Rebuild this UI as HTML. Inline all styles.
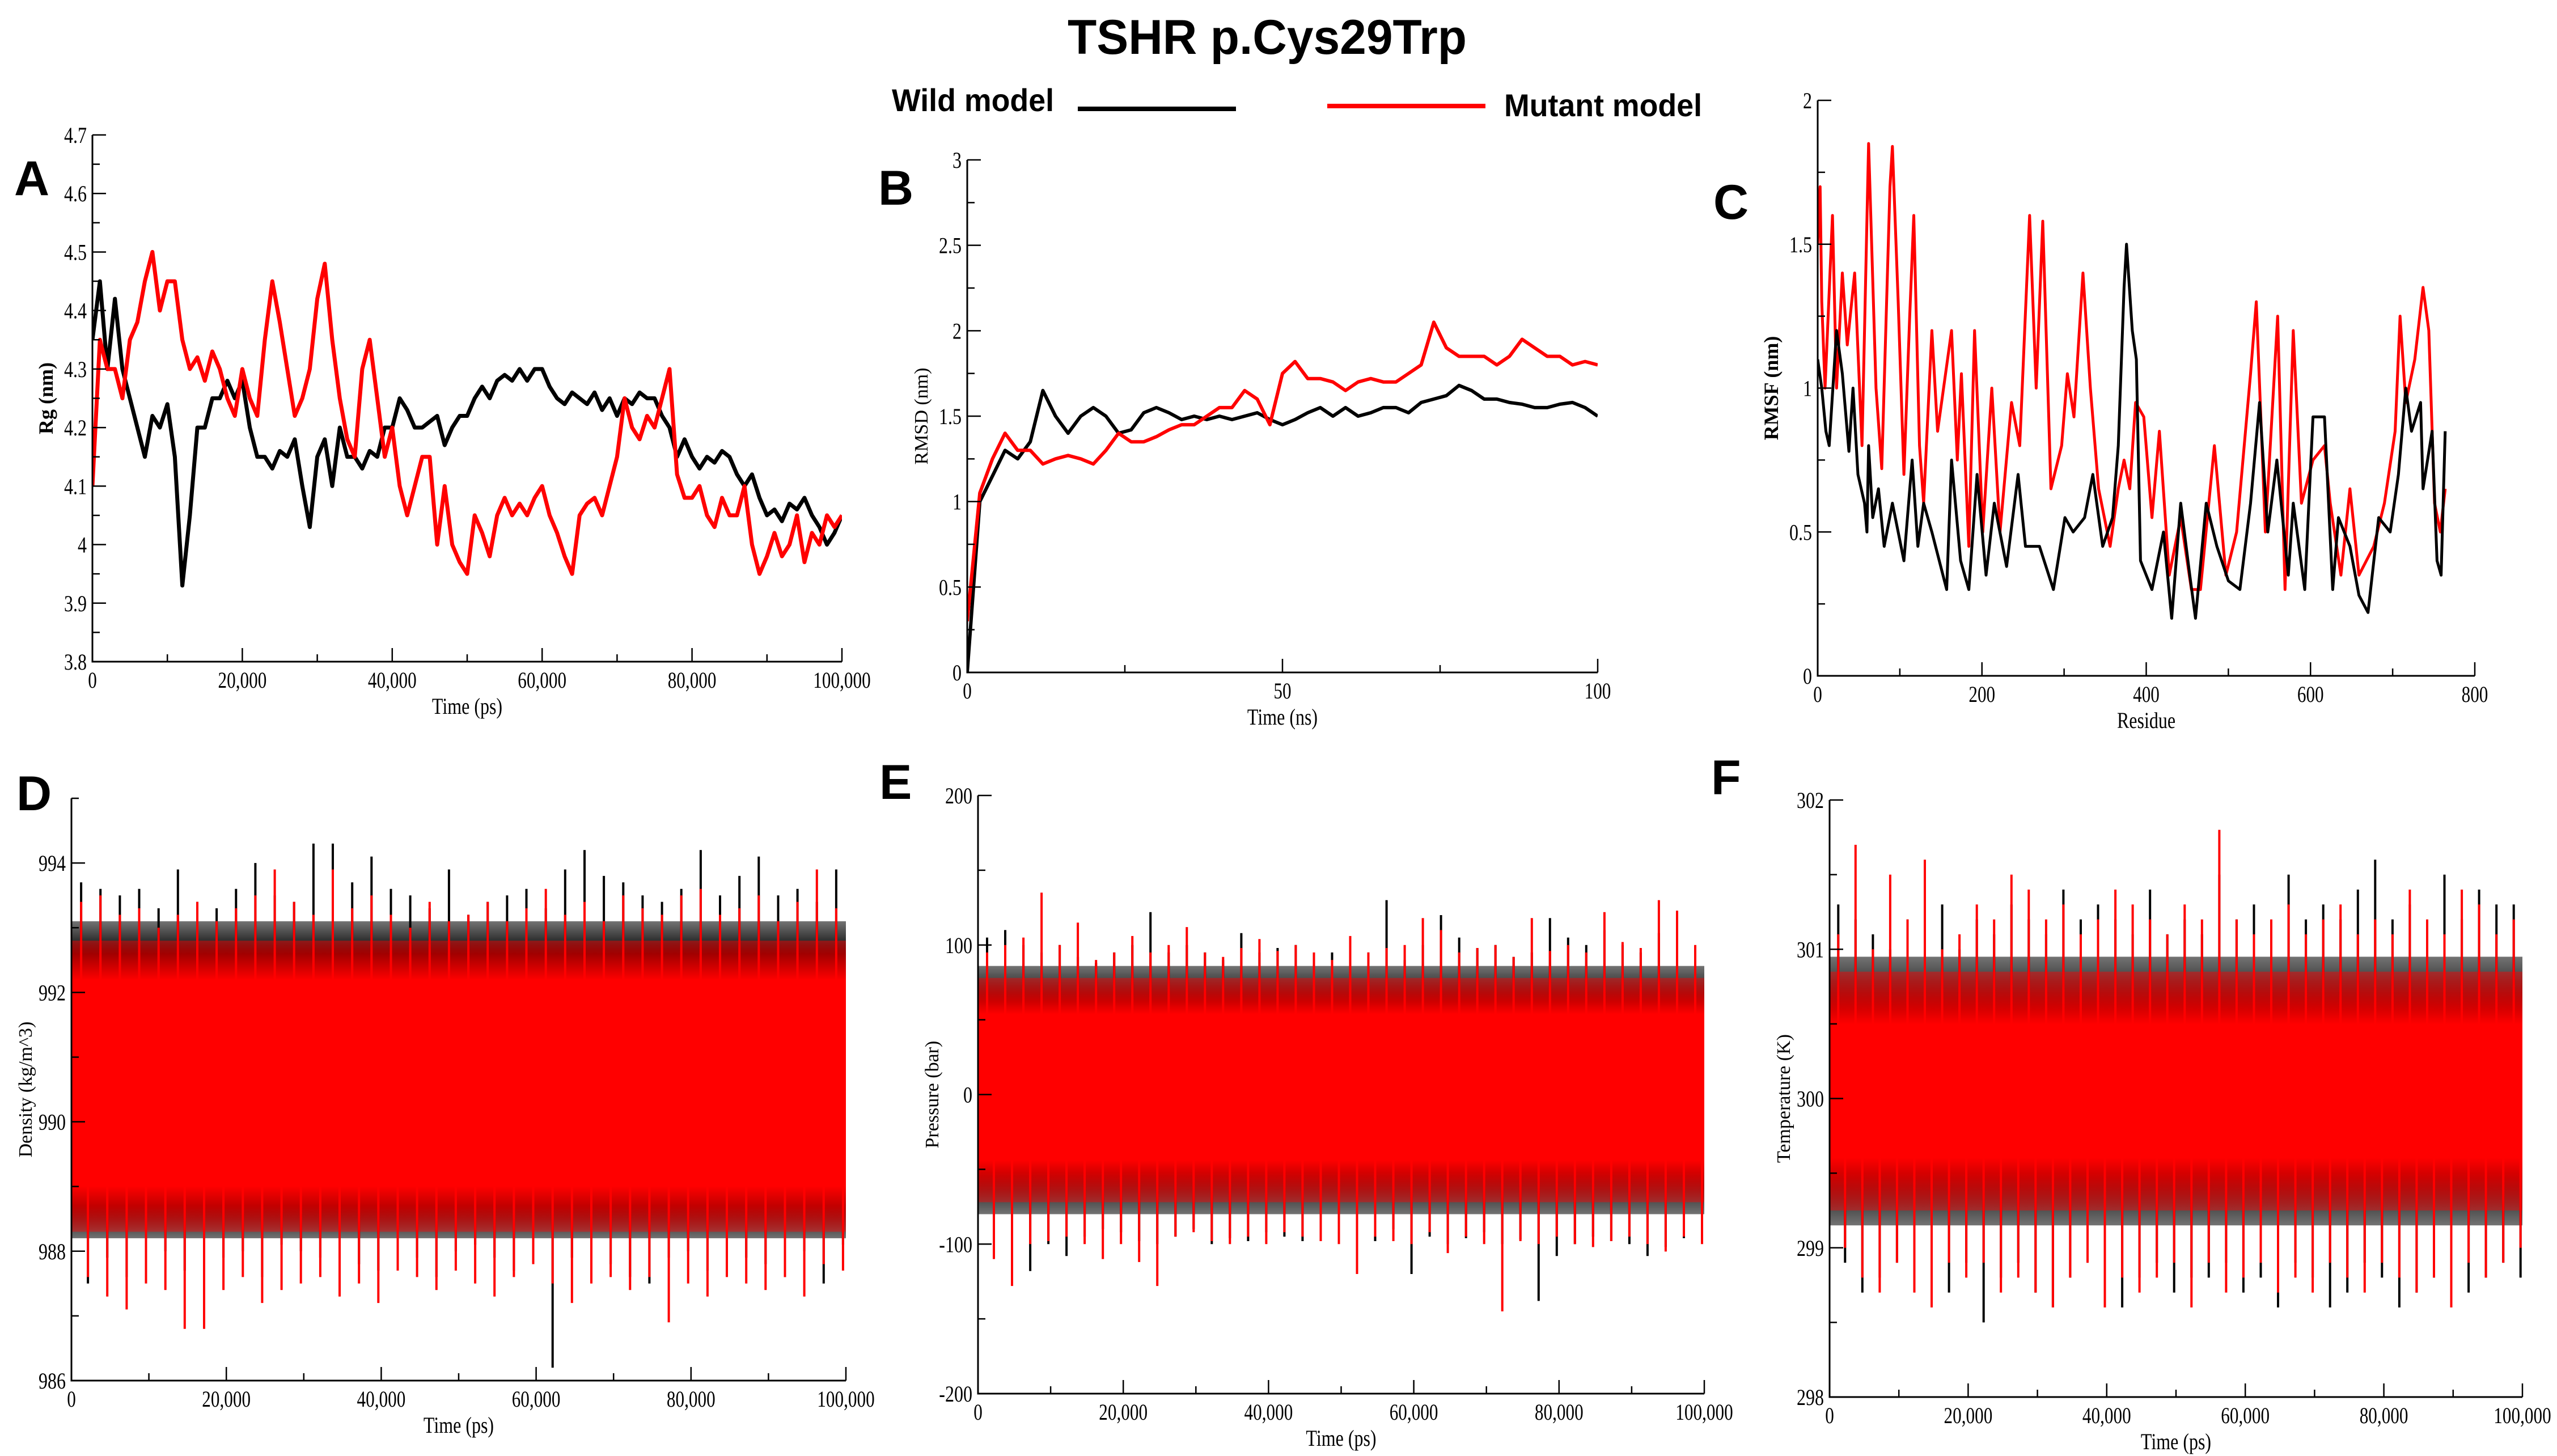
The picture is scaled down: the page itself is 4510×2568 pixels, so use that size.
<!DOCTYPE html>
<html><head><meta charset="utf-8"><style>
html,body{margin:0;padding:0;background:#fff;}
svg{display:block;}
</style></head><body>
<svg id="fig" xmlns="http://www.w3.org/2000/svg" width="4510" height="2568" viewBox="0 0 4510 2568">
<defs id="defs">
<linearGradient id="fadeUpK" x1="0" y1="1" x2="0" y2="0"><stop offset="0" stop-color="#000" stop-opacity="1"/><stop offset="1" stop-color="#000" stop-opacity="0.55"/></linearGradient>
<linearGradient id="fadeDnK" x1="0" y1="0" x2="0" y2="1"><stop offset="0" stop-color="#000" stop-opacity="1"/><stop offset="1" stop-color="#000" stop-opacity="0.55"/></linearGradient>
<linearGradient id="fadeUpR" x1="0" y1="1" x2="0" y2="0"><stop offset="0" stop-color="#f00" stop-opacity="1"/><stop offset="1" stop-color="#f00" stop-opacity="0.45"/></linearGradient>
<linearGradient id="fadeDnR" x1="0" y1="0" x2="0" y2="1"><stop offset="0" stop-color="#f00" stop-opacity="1"/><stop offset="1" stop-color="#f00" stop-opacity="0.45"/></linearGradient>
</defs>
<rect width="4510" height="2568" fill="#fff"/>
<text x="2235" y="95" text-anchor="middle" font-family="Liberation Sans, sans-serif" font-weight="bold" font-size="86" textLength="704" lengthAdjust="spacingAndGlyphs">TSHR p.Cys29Trp</text>
<g>
<text x="1573" y="196" font-family="Liberation Sans, sans-serif" font-weight="bold" font-size="56" textLength="286" lengthAdjust="spacingAndGlyphs">Wild model</text>
<line x1="1901" y1="192" x2="2180" y2="192" stroke="#000" stroke-width="8"/>
<line x1="2341" y1="187" x2="2620" y2="187" stroke="#f00" stroke-width="8"/>
<text x="2653" y="205" font-family="Liberation Sans, sans-serif" font-weight="bold" font-size="56" textLength="349" lengthAdjust="spacingAndGlyphs">Mutant model</text>
</g>
<g id="plots"></g>
</svg>
<script>
// ---------- Panel A: Rg ----------
const rgTime = [0,1000,2000,3000,4000,5000,6000,7000,8000,9000,10000,11000,12000,13000,14000,15000,16000,17000,18000,19000,20000,21000,22000,23000,24000,25000,26000,27000,28000,29000,30000,31000,32000,33000,34000,35000,36000,37000,38000,39000,40000,41000,42000,43000,44000,45000,46000,47000,48000,49000,50000,51000,52000,53000,54000,55000,56000,57000,58000,59000,60000,61000,62000,63000,64000,65000,66000,67000,68000,69000,70000,71000,72000,73000,74000,75000,76000,77000,78000,79000,80000,81000,82000,83000,84000,85000,86000,87000,88000,89000,90000,91000,92000,93000,94000,95000,96000,97000,98000,99000,100000];
const rgWild = [4.35,4.45,4.3,4.42,4.3,4.25,4.2,4.15,4.22,4.2,4.24,4.15,3.93,4.05,4.2,4.2,4.25,4.25,4.28,4.25,4.28,4.2,4.15,4.15,4.13,4.16,4.15,4.18,4.1,4.03,4.15,4.18,4.1,4.2,4.15,4.15,4.13,4.16,4.15,4.2,4.2,4.25,4.23,4.2,4.2,4.21,4.22,4.17,4.2,4.22,4.22,4.25,4.27,4.25,4.28,4.29,4.28,4.3,4.28,4.3,4.3,4.27,4.25,4.24,4.26,4.25,4.24,4.26,4.23,4.25,4.22,4.25,4.24,4.26,4.25,4.25,4.22,4.2,4.15,4.18,4.15,4.13,4.15,4.14,4.16,4.15,4.12,4.1,4.12,4.08,4.05,4.06,4.04,4.07,4.06,4.08,4.05,4.03,4.0,4.02,4.05];
const rgMutant = [4.1,4.35,4.3,4.3,4.25,4.35,4.38,4.45,4.5,4.4,4.45,4.45,4.35,4.3,4.32,4.28,4.33,4.3,4.25,4.22,4.3,4.25,4.22,4.35,4.45,4.38,4.3,4.22,4.25,4.3,4.42,4.48,4.35,4.25,4.18,4.15,4.3,4.35,4.25,4.15,4.2,4.1,4.05,4.1,4.15,4.15,4.0,4.1,4.0,3.97,3.95,4.05,4.02,3.98,4.05,4.08,4.05,4.07,4.05,4.08,4.1,4.05,4.02,3.98,3.95,4.05,4.07,4.08,4.05,4.1,4.15,4.25,4.2,4.18,4.22,4.2,4.25,4.3,4.12,4.08,4.08,4.1,4.05,4.03,4.08,4.05,4.05,4.1,4.0,3.95,3.98,4.02,3.98,4.0,4.05,3.97,4.02,4.0,4.05,4.03,4.05];
// ---------- Panel B: RMSD ----------
const rmsdTime = [0,2,4,6,8,10,12,14,16,18,20,22,24,26,28,30,32,34,36,38,40,42,44,46,48,50,52,54,56,58,60,62,64,66,68,70,72,74,76,78,80,82,84,86,88,90,92,94,96,98,100];
const rmsdWild = [0,1.0,1.15,1.3,1.25,1.35,1.65,1.5,1.4,1.5,1.55,1.5,1.4,1.42,1.52,1.55,1.52,1.48,1.5,1.48,1.5,1.48,1.5,1.52,1.48,1.45,1.48,1.52,1.55,1.5,1.55,1.5,1.52,1.55,1.55,1.52,1.58,1.6,1.62,1.68,1.65,1.6,1.6,1.58,1.57,1.55,1.55,1.57,1.58,1.55,1.5];
const rmsdMutant = [0.3,1.05,1.25,1.4,1.3,1.3,1.22,1.25,1.27,1.25,1.22,1.3,1.4,1.35,1.35,1.38,1.42,1.45,1.45,1.5,1.55,1.55,1.65,1.6,1.45,1.75,1.82,1.72,1.72,1.7,1.65,1.7,1.72,1.7,1.7,1.75,1.8,2.05,1.9,1.85,1.85,1.85,1.8,1.85,1.95,1.9,1.85,1.85,1.8,1.82,1.8];
// ---------- Panel C: RMSF ----------
const rmsfResWild = [0,5,10,14,23,30,33,38,43,49,57,60,62,67,74,81,91,105,115,122,129,139,157,163,174,184,194,205,215,230,244,253,270,287,301,311,325,335,347,359,366,373,376,383,388,393,407,421,431,442,453,460,473,486,500,514,527,538,548,559,573,579,593,603,617,627,634,648,659,670,683,697,707,716,723,734,737,748,754,759,764];
const rmsfWild = [1.1,1.0,0.85,0.8,1.2,1.05,0.95,0.78,1.0,0.7,0.6,0.5,0.8,0.55,0.65,0.45,0.6,0.4,0.75,0.45,0.6,0.5,0.3,0.75,0.4,0.3,0.7,0.35,0.6,0.38,0.7,0.45,0.45,0.3,0.55,0.5,0.55,0.7,0.45,0.55,0.8,1.35,1.5,1.2,1.1,0.4,0.3,0.5,0.2,0.6,0.35,0.2,0.6,0.45,0.33,0.3,0.6,0.95,0.5,0.75,0.35,0.6,0.3,0.9,0.9,0.3,0.55,0.45,0.28,0.22,0.55,0.5,0.7,1.0,0.85,0.95,0.65,0.85,0.4,0.35,0.85];
const rmsfResMutant = [0,3,5,9,18,23,30,36,45,54,62,71,78,88,91,98,105,112,117,124,129,139,146,163,170,175,184,191,201,212,222,236,246,258,266,274,284,297,304,312,323,332,342,356,366,373,380,387,397,407,416,428,442,455,466,483,497,510,527,534,545,560,569,579,589,603,617,624,637,648,659,677,690,703,709,716,727,737,744,751,758,764];
const rmsfMutant = [1.5,1.7,1.3,1.0,1.6,1.0,1.4,1.15,1.4,0.8,1.85,1.0,0.72,1.7,1.84,1.3,0.7,1.25,1.6,0.8,0.6,1.2,0.85,1.2,0.75,1.05,0.45,1.2,0.5,1.0,0.5,0.95,0.8,1.6,1.0,1.58,0.65,0.8,1.05,0.9,1.4,1.0,0.65,0.45,0.65,0.75,0.65,0.95,0.9,0.55,0.85,0.35,0.55,0.3,0.3,0.8,0.35,0.5,1.05,1.3,0.5,1.25,0.3,1.2,0.6,0.75,0.8,0.6,0.35,0.65,0.35,0.45,0.6,0.85,1.25,0.95,1.1,1.35,1.2,0.6,0.5,0.65];
// ---------- Panel D: Density (40 bins over 0-100000 ps) ----------
const densWildHi = [993.7,993.6,993.5,993.6,993.3,993.9,993.4,993.3,993.6,994.0,993.5,993.4,994.3,994.3,993.7,994.1,993.6,993.5,993.3,993.9,993.2,993.4,993.5,993.6,993.3,993.9,994.2,993.8,993.7,993.5,993.4,993.6,994.2,993.5,993.8,994.1,993.5,993.6,993.4,993.9];
const densWildLo = [987.5,987.9,987.6,987.8,988.0,987.7,988.2,987.9,988.0,987.6,988.1,988.0,987.9,988.1,987.8,987.7,988.0,987.9,987.6,988.0,988.1,987.9,987.7,988.0,986.2,987.9,988.0,987.8,987.6,987.5,987.9,988.0,987.7,988.1,987.9,987.8,987.6,988.0,987.5,988.1];
const densMutHi = [993.4,993.5,993.2,993.3,993.0,993.2,993.4,993.1,993.3,993.5,993.9,993.4,993.2,993.9,993.3,993.5,993.2,993.0,993.4,993.1,993.2,993.4,993.1,993.3,993.6,993.2,993.4,993.1,993.5,993.3,993.2,993.5,993.6,993.2,993.3,993.5,993.1,993.4,993.9,993.3];
const densMutLo = [987.6,987.3,987.1,987.5,987.4,986.8,986.8,987.4,987.6,987.2,987.4,987.5,987.6,987.3,987.5,987.2,987.7,987.6,987.4,987.7,987.5,987.3,987.6,987.8,987.5,987.2,987.5,987.6,987.4,987.6,986.9,987.5,987.3,987.6,987.5,987.4,987.6,987.3,987.8,987.7];
const densWildBand = [988.7, 992.6]; const densWildFringe = [988.2, 993.1];
const densMutBand = [989.0, 992.2];  const densMutFringe = [988.3, 992.8];
// ---------- Panel E: Pressure ----------
const presWildHi = [105,110,100,95,100,92,88,95,100,122,95,100,95,90,108,95,98,100,90,95,88,95,130,90,100,120,105,98,100,92,95,118,105,100,110,100,95,108,100,95];
const presWildLo = [-95,-98,-118,-100,-108,-95,-90,-92,-98,-100,-95,-90,-100,-96,-98,-92,-95,-98,-90,-95,-100,-98,-90,-120,-95,-100,-96,-92,-100,-97,-138,-108,-100,-95,-98,-100,-108,-102,-96,-95];
const presMutHi = [95,100,105,135,100,115,90,95,106,95,100,112,95,92,98,104,96,100,95,90,106,95,98,100,118,110,95,98,100,92,118,96,100,95,122,102,98,130,123,100];
const presMutLo = [-110,-128,-100,-98,-95,-100,-110,-100,-112,-128,-95,-92,-98,-100,-95,-100,-92,-95,-98,-100,-120,-95,-98,-100,-92,-106,-95,-100,-145,-98,-100,-95,-100,-102,-98,-95,-100,-105,-95,-100];
const presWildBand = [-52, 62]; const presWildFringe = [-80, 86];
const presMutBand = [-44, 54];  const presMutFringe = [-72, 78];
// ---------- Panel F: Temperature ----------
const tempWildHi = [301.3,301.2,301.1,301.0,301.2,301.1,301.3,301.0,301.2,301.1,301.3,301.2,301.1,301.4,301.2,301.3,301.2,301.1,301.4,301.1,301.2,301.1,301.5,301.2,301.3,301.1,301.5,301.2,301.3,301.2,301.4,301.6,301.2,301.3,301.1,301.5,301.2,301.4,301.3,301.3];
const tempWildLo = [298.9,298.7,298.8,298.9,298.8,298.9,298.7,298.9,298.5,298.8,298.9,298.7,298.6,298.8,298.9,298.7,298.6,298.8,298.9,298.7,298.8,298.8,298.9,298.7,298.8,298.6,298.9,298.8,298.6,298.7,298.9,298.8,298.6,298.7,298.8,298.6,298.7,298.8,298.9,298.8];
const tempMutHi = [301.1,301.7,301.0,301.5,301.2,301.6,301.0,301.1,301.3,301.2,301.5,301.4,301.2,301.3,301.1,301.2,301.4,301.3,301.2,301.1,301.3,301.2,301.8,301.2,301.1,301.2,301.3,301.1,301.2,301.3,301.1,301.2,301.1,301.4,301.2,301.1,301.4,301.3,301.1,301.2];
const tempMutLo = [299.0,298.8,298.7,298.9,298.7,298.6,298.9,298.8,298.9,298.7,298.8,298.7,298.6,298.8,298.9,298.6,298.8,298.7,298.8,298.9,298.6,298.9,298.7,298.8,298.9,298.7,298.8,298.7,298.9,298.8,298.7,298.9,298.8,298.7,298.8,298.6,298.9,298.8,298.9,299.0];
const tempWildBand = [299.5, 300.6]; const tempWildFringe = [299.15, 300.95];
const tempMutBand = [299.6, 300.5];  const tempMutFringe = [299.25, 300.85];

const NS = 'http://www.w3.org/2000/svg';
const root = document.getElementById('plots');
function mk(tag, attrs, parent){ const e=document.createElementNS(NS,tag); for(const k in attrs) e.setAttribute(k,attrs[k]); (parent||root).appendChild(e); return e; }
function fmt(v, comma, dec){ let s = dec!=null ? (+v.toFixed(dec)).toString() : v.toString(); if(comma && Math.abs(v)>=1000) s = v.toLocaleString('en-US'); return s; }
function condense(t, f){ const w=t.getComputedTextLength(); if(w>0){ t.setAttribute('textLength', (w*f).toFixed(1)); t.setAttribute('lengthAdjust','spacingAndGlyphs'); } }

function panel(cfg){
  const g = mk('g',{});
  
  
  const sx = v => cfg.x0 + (v-cfg.xmin)/(cfg.xmax-cfg.xmin)*(cfg.x1-cfg.x0);
  const sy = v => cfg.y1 - (v-cfg.ymin)/(cfg.ymax-cfg.ymin)*(cfg.y1-cfg.y0);
  const clip = 'clip-'+cfg.name;
  const cp = mk('clipPath',{id:clip}, g); mk('rect',{x:cfg.x0,y:cfg.y0-200,width:cfg.x1-cfg.x0,height:cfg.y1-cfg.y0+200},cp);
  const data = mk('g',{'clip-path':'url(#'+clip+')'}, g);
  
  
  cfg.draw(data, sx, sy);
  const ax = mk('path',{d:`M${cfg.x0},${cfg.y0} V${cfg.y1} H${cfg.x1}`, fill:'none', stroke:'#000', 'stroke-width':3}, g);
  
  
  const tk = [];
  for(let v=cfg.xmin; v<=cfg.xmax+1e-9; v+=cfg.xminor){ const major = Math.abs(((v-cfg.xmin)/cfg.xmajor)-Math.round((v-cfg.xmin)/cfg.xmajor))<1e-6; const X=sx(v); tk.push(`M${X},${cfg.y1} v${major?-24:-13}`);
    if(major){ const t=mk('text',{x:X,y:cfg.y1+46,'text-anchor':'middle','font-family':'Liberation Serif, serif','font-size':40},g); t.textContent=fmt(Math.round(v),true);
      
       condense(t,0.78);} }
  for(let v=cfg.ymin; v<=cfg.ymax+1e-9; v+=cfg.yminor){ const major = Math.abs(((v-cfg.ymin)/cfg.ymajor)-Math.round((v-cfg.ymin)/cfg.ymajor))<1e-6 && v<=cfg.ylabmax+1e-9; const Y=sy(v); tk.push(`M${cfg.x0},${Y} h${major?24:13}`);
    if(major){ const t=mk('text',{x:cfg.x0-10,y:Y+14,'text-anchor':'end','font-family':'Liberation Serif, serif','font-size':40},g); t.textContent=fmt(v,false,cfg.ydec);
      
       condense(t,0.8);} }
  const tp = mk('path',{d:tk.join(' '),stroke:'#000','stroke-width':2.5,fill:'none'},g);
  
  
  const xt = mk('text',{x:(cfg.x0+cfg.x1)/2,y:cfg.y1+92,'text-anchor':'middle','font-family':'Liberation Serif, serif','font-size':40},g); xt.textContent=cfg.xlabel;
  
   condense(xt,0.8);
  const cy=(cfg.y0+cfg.y1)/2, cx=cfg.x0-70;
  const yt = mk('text',{x:cx,y:cy,'text-anchor':'middle','font-family':'Liberation Serif, serif','font-size':cfg.ybold?36:34,'font-weight':cfg.ybold?'bold':'normal',transform:`rotate(-90 ${cx} ${cy})`},g); yt.textContent=cfg.ylabel;
  
  
  const L = mk('text',{x:cfg.lx,y:cfg.ly,'font-family':'Liberation Sans, sans-serif','font-weight':'bold','font-size':86},g); L.textContent=cfg.letter;
  
  
}
function line(parent, xs, ys, sx, sy, color, w, name){
  const p = mk('polyline',{points: xs.map((x,i)=>sx(x).toFixed(1)+','+sy(ys[i]).toFixed(1)).join(' '), fill:'none', stroke:color, 'stroke-width':w, 'stroke-linejoin':'round'}, parent);
  
  
}
function noisy(parent, hi, lo, band, fringe, sx, sy, color, key, name, xmax){
  const g = mk('g',{}, parent);
  
  
  const X0=sx(0), X1=sx(xmax);
  mk('rect',{x:X0,y:sy(fringe[1]),width:X1-X0,height:sy(band[1])-sy(fringe[1])+1,fill:'url(#fadeUp'+key+')'},g);
  mk('rect',{x:X0,y:sy(band[0])-1,width:X1-X0,height:sy(fringe[0])-sy(band[0])+1,fill:'url(#fadeDn'+key+')'},g);
  mk('rect',{x:X0,y:sy(band[1]),width:X1-X0,height:sy(band[0])-sy(band[1]),fill:color},g);
  const n=hi.length; const d=[];
  for(let i=0;i<n;i++){ const X=sx((i+0.5)*xmax/n); d.push(`M${X.toFixed(1)},${sy(band[1]).toFixed(1)} V${sy(hi[i]).toFixed(1)}`); d.push(`M${(X+12).toFixed(1)},${sy(band[0]).toFixed(1)} V${sy(lo[i]).toFixed(1)}`); }
  mk('path',{d:d.join(' '),stroke:color,'stroke-width':4,fill:'none'},g);
}

panel({name:'panel-a-rg', letter:'A', lx:25, ly:344, x0:163,x1:1485,y0:238,y1:1167, xmin:0,xmax:100000,xmajor:20000,xminor:10000, ymin:3.8,ymax:4.7,ymajor:0.1,yminor:0.05,ylabmax:4.7,ydec:1, xlabel:'Time (ps)', ylabel:'Rg (nm)', ybold:true,
  draw:(g,sx,sy)=>{ line(g,rgTime,rgWild,sx,sy,'#000',7,'rg-wild-line'); line(g,rgTime,rgMutant,sx,sy,'#f00',7,'rg-mutant-line'); }});
panel({name:'panel-b-rmsd', letter:'B', lx:1549, ly:361, x0:1706,x1:2818,y0:282,y1:1186, xmin:0,xmax:100,xmajor:50,xminor:25, ymin:0,ymax:3,ymajor:0.5,yminor:0.25,ylabmax:3,ydec:1, xlabel:'Time (ns)', ylabel:'RMSD (nm)',
  draw:(g,sx,sy)=>{ line(g,rmsdTime,rmsdWild,sx,sy,'#000',6,'rmsd-wild-line'); line(g,rmsdTime,rmsdMutant,sx,sy,'#f00',6,'rmsd-mutant-line'); }});
panel({name:'panel-c-rmsf', letter:'C', lx:3022, ly:386, x0:3206,x1:4365,y0:177,y1:1192, xmin:0,xmax:800,xmajor:200,xminor:100, ymin:0,ymax:2,ymajor:0.5,yminor:0.25,ylabmax:2,ydec:1, xlabel:'Residue', ylabel:'RMSF (nm)', ybold:true,
  draw:(g,sx,sy)=>{ line(g,rmsfResMutant,rmsfMutant,sx,sy,'#f00',5,'rmsf-mutant-line'); line(g,rmsfResWild,rmsfWild,sx,sy,'#000',5,'rmsf-wild-line'); }});
panel({name:'panel-d-density', letter:'D', lx:29, ly:1429, x0:126,x1:1492,y0:1408,y1:2435, xmin:0,xmax:100000,xmajor:20000,xminor:10000, ymin:986,ymax:995,ymajor:2,yminor:1,ylabmax:994,ydec:0, xlabel:'Time (ps)', ylabel:'Density (kg/m^3)',
  draw:(g,sx,sy)=>{ noisy(g,densWildHi,densWildLo,densWildBand,densWildFringe,sx,sy,'#000','K','density-wild-series',100000); noisy(g,densMutHi,densMutLo,densMutBand,densMutFringe,sx,sy,'#f00','R','density-mutant-series',100000); }});
panel({name:'panel-e-pressure', letter:'E', lx:1551, ly:1409, x0:1725,x1:3006,y0:1403,y1:2458, xmin:0,xmax:100000,xmajor:20000,xminor:10000, ymin:-200,ymax:200,ymajor:100,yminor:50,ylabmax:200,ydec:0, xlabel:'Time (ps)', ylabel:'Pressure (bar)',
  draw:(g,sx,sy)=>{ noisy(g,presWildHi,presWildLo,presWildBand,presWildFringe,sx,sy,'#000','K','pressure-wild-series',100000); noisy(g,presMutHi,presMutLo,presMutBand,presMutFringe,sx,sy,'#f00','R','pressure-mutant-series',100000); }});
panel({name:'panel-f-temperature', letter:'F', lx:3018, ly:1401, x0:3227,x1:4449,y0:1411,y1:2464, xmin:0,xmax:100000,xmajor:20000,xminor:10000, ymin:298,ymax:302,ymajor:1,yminor:0.5,ylabmax:302,ydec:0, xlabel:'Time (ps)', ylabel:'Temperature (K)',
  draw:(g,sx,sy)=>{ noisy(g,tempWildHi,tempWildLo,tempWildBand,tempWildFringe,sx,sy,'#000','K','temperature-wild-series',100000); noisy(g,tempMutHi,tempMutLo,tempMutBand,tempMutFringe,sx,sy,'#f00','R','temperature-mutant-series',100000); }});
</script>
</body></html>
